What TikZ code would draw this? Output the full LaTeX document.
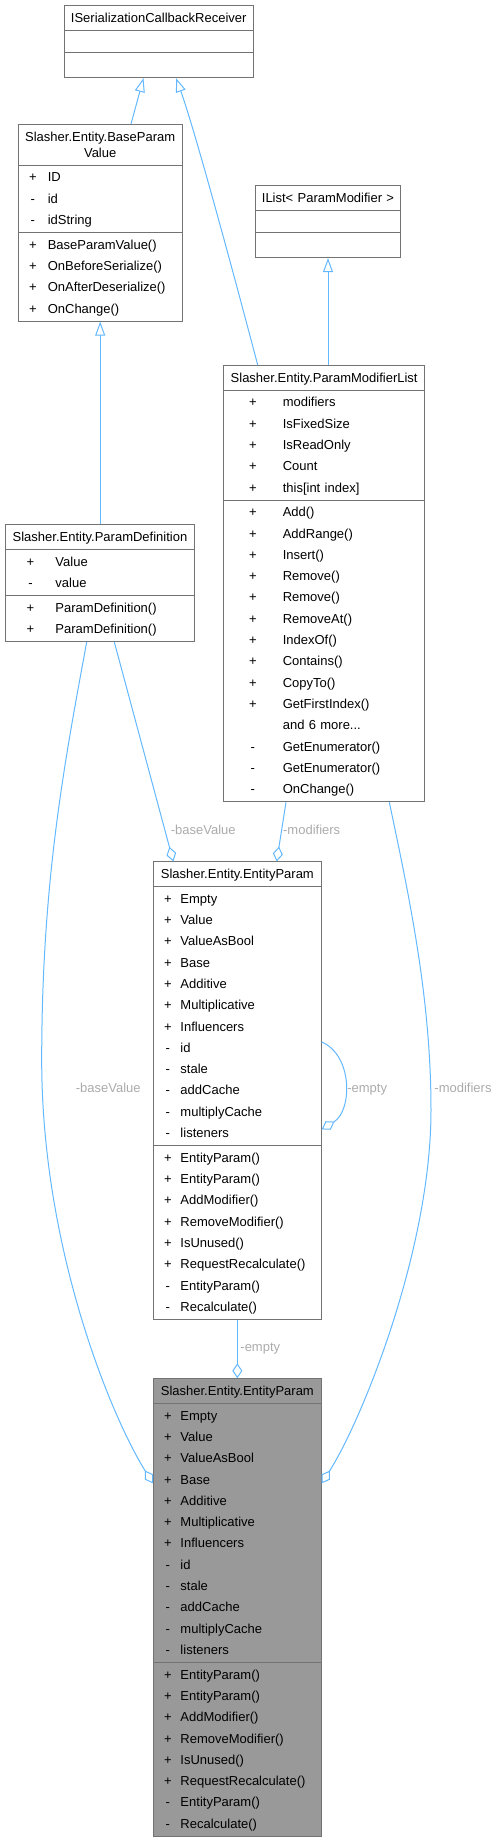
\documentclass[tikz,border=0pt]{standalone}
\usepackage{fontspec}
\setmainfont{Liberation Sans}
\usepackage{xcolor}
\usepackage{tikz}
\usetikzlibrary{calc}
\usetikzlibrary{arrows.meta}
\usetikzlibrary{shapes.multipart}
\definecolor{edgeblue}{HTML}{63B8FF}
\definecolor{boxgray}{HTML}{737373}
\definecolor{fillgray}{HTML}{999999}
\definecolor{lblgray}{HTML}{ABABAB}
\newlength\viscx
\newlength\namex
\newcommand{\ttl}[1]{\begin{tabular}{@{}c@{}}#1\end{tabular}}
\newcommand{\mems}[1]{\begin{tabular}{@{}l@{}}#1\end{tabular}}
\newcommand{\mem}[2]{\makebox[\hsize][l]{\kern\viscx\makebox[0pt]{#1}\kern\dimexpr\namex-\viscx\relax #2}}
\tikzset{>=latex}
\tikzstyle{cls} = [rectangle split, rectangle split parts=3, draw=boxgray, line width=1pt, fill=white, inner xsep=0pt, inner ysep=1.2pt, align=center, anchor=north west]
\tikzstyle{inherit} = [-{Triangle[open, length=14pt, width=10pt]}, draw=edgeblue, line width=1pt]
\tikzstyle{aggr} = [-{Diamond[open, length=15pt, width=10pt]}, draw=edgeblue, line width=1pt]
\tikzstyle{lbl} = [draw=none, text=lblgray, inner sep=0, anchor=base]
\tikzset{cols/.style 2 args={execute at begin node={\global\viscx=#1\relax\global\namex=#2\relax}}}

\begin{document}
\fontsize{13}{21.3}\selectfont
\begin{tikzpicture}[x=1pt, y=-1pt, font=\fontsize{13}{21.3}\selectfont]
\useasboundingbox (0,0) rectangle (497,1837);
% classes
\node [cls, text width=189pt] (iscr) at (63.7,5) {\ttl{ISerializationCallbackReceiver}
  \nodepart{two}\rule{0pt}{19pt}
  \nodepart{three}\rule{0pt}{21.6pt}};
\node [cls, text width=164pt, cols={14.6pt}{29.6pt}] (bpv) at (17.7,124) {\ttl{Slasher.Entity.BaseParam\\[-5.3pt]Value}
  \nodepart{two}\mems{\mem{+}{ID}\\ \mem{-}{id}\\ \mem{-}{idString}}
  \nodepart{three}\mems{\mem{+}{BaseParamValue()}\\ \mem{+}{OnBeforeSerialize()}\\ \mem{+}{OnAfterDeserialize()}\\ \mem{+}{OnChange()}}};
\node [cls, text width=144.4pt] (ilist) at (255.3,185) {\ttl{IList< ParamModifier >}
  \nodepart{two}\rule{0pt}{19pt}
  \nodepart{three}\rule{0pt}{21.6pt}};
\node [cls, text width=200.7pt, cols={29pt}{59pt}] (pml) at (223.3,365) {\ttl{Slasher.Entity.ParamModifierList}
  \nodepart{two}\mems{\mem{+}{modifiers}\\ \mem{+}{IsFixedSize}\\ \mem{+}{IsReadOnly}\\ \mem{+}{Count}\\ \mem{+}{this[int index]}}
  \nodepart{three}\mems{\mem{+}{Add()}\\ \mem{+}{AddRange()}\\ \mem{+}{Insert()}\\ \mem{+}{Remove()}\\ \mem{+}{Remove()}\\ \mem{+}{RemoveAt()}\\ \mem{+}{IndexOf()}\\ \mem{+}{Contains()}\\ \mem{+}{CopyTo()}\\ \mem{+}{GetFirstIndex()}\\ \mem{}{and 6 more...}\\ \mem{-}{GetEnumerator()}\\ \mem{-}{GetEnumerator()}\\ \mem{-}{OnChange()}}};
\node [cls, text width=189pt, cols={25pt}{50pt}] (pdef) at (5,524.3) {\ttl{Slasher.Entity.ParamDefinition}
  \nodepart{two}\mems{\mem{+}{Value}\\ \mem{-}{value}}
  \nodepart{three}\mems{\mem{+}{ParamDefinition()}\\ \mem{+}{ParamDefinition()}}};
\node [cls, text width=167.7pt, cols={14.3pt}{27pt}] (ep) at (153,861.4) {\ttl{Slasher.Entity.EntityParam}
  \nodepart{two}\mems{\mem{+}{Empty}\\ \mem{+}{Value}\\ \mem{+}{ValueAsBool}\\ \mem{+}{Base}\\ \mem{+}{Additive}\\ \mem{+}{Multiplicative}\\ \mem{+}{Influencers}\\ \mem{-}{id}\\ \mem{-}{stale}\\ \mem{-}{addCache}\\ \mem{-}{multiplyCache}\\ \mem{-}{listeners}}
  \nodepart{three}\mems{\mem{+}{EntityParam()}\\ \mem{+}{EntityParam()}\\ \mem{+}{AddModifier()}\\ \mem{+}{RemoveModifier()}\\ \mem{+}{IsUnused()}\\ \mem{+}{RequestRecalculate()}\\ \mem{-}{EntityParam()}\\ \mem{-}{Recalculate()}}};
\node [cls, text width=167.7pt, cols={14.3pt}{27pt}, fill=fillgray] (ep2) at (153,1378.3) {\ttl{Slasher.Entity.EntityParam}
  \nodepart{two}\mems{\mem{+}{Empty}\\ \mem{+}{Value}\\ \mem{+}{ValueAsBool}\\ \mem{+}{Base}\\ \mem{+}{Additive}\\ \mem{+}{Multiplicative}\\ \mem{+}{Influencers}\\ \mem{-}{id}\\ \mem{-}{stale}\\ \mem{-}{addCache}\\ \mem{-}{multiplyCache}\\ \mem{-}{listeners}}
  \nodepart{three}\mems{\mem{+}{EntityParam()}\\ \mem{+}{EntityParam()}\\ \mem{+}{AddModifier()}\\ \mem{+}{RemoveModifier()}\\ \mem{+}{IsUnused()}\\ \mem{+}{RequestRecalculate()}\\ \mem{-}{EntityParam()}\\ \mem{-}{Recalculate()}}};
% inheritance
\draw [inherit] ($(bpv.north west)+(113.3,0)$) -- ($(iscr.south west)+(79.8,0)$);
\draw [inherit] ($(pml.north west)+(34.4,0)$) .. controls (238,290) and (195,130) .. ($(iscr.south west)+(112.3,0)$);
\draw [inherit] (ilist.south |- pml.north) -- (ilist.south);
\draw [inherit] (bpv.south |- pdef.north) -- (bpv.south);
% members
\draw [aggr] ($(pdef.south west)+(109.3,0)$) -- ($(ep.north west)+(20.3,0)$);
\draw [aggr] ($(pml.south west)+(62.7,0)$) -- ($(ep.north west)+(123.7,0)$);
\draw [aggr] ($(ep.north east)+(0,180.6)$) .. controls +(31,13) and +(31,-19) .. ($(ep.north east)+(0,268)$);
\draw [aggr] (ep.south) -- (ep2.north);
\draw [aggr] ($(pdef.south west)+(81.7,0)$) .. controls (65,760) and (41.7,880) .. (41.7,1060) .. controls (41.7,1250) and (112,1418) .. ($(ep2.north west)+(0,105)$);
\draw [aggr] ($(pml.south west)+(166,0)$) .. controls (410,900) and (431,1000) .. (431,1110) .. controls (431,1250) and (362,1420) .. ($(ep2.north east)+(0,105)$);
% labels
\node [lbl] (lbBaseMid) at (203.3,834.2) {-baseValue};
\node [lbl] (lbModMid) at (311.7,834.2) {-modifiers};
\node [lbl] (lbEmptySelf) at (367.2,1092.7) {-empty};
\node [lbl] (lbBaseLong) at (108.3,1092.7) {-baseValue};
\node [lbl] (lbModLong) at (463,1092.7) {-modifiers};
\node [lbl] (lbEmpty) at (260.3,1351.4) {-empty};
\end{tikzpicture}
\end{document}
